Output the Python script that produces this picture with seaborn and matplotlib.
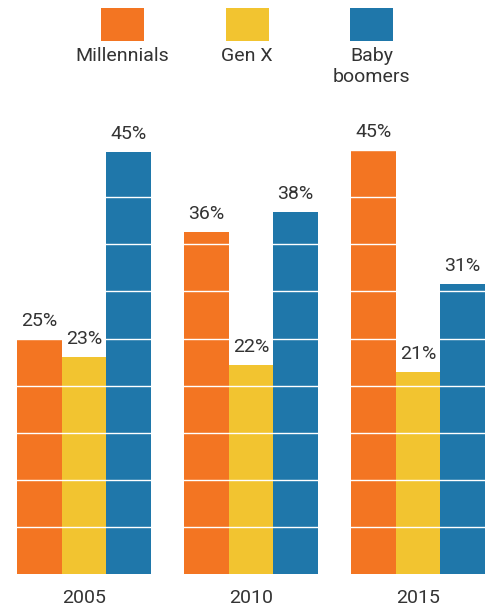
import pandas as pd
import matplotlib.pyplot as plt
import seaborn as sns
from matplotlib.patches import Rectangle

# --- dados ---
years = ["2005", "2010", "2015"]
generations = ["Millennials", "Gen X", "Baby boomers"]
millennials = [24.9, 36.3, 45.0]
gen_x = [23.0, 22.2, 21.4]
boomers = [44.8, 38.4, 30.8]
labels_millennials = ["25%", "36%", "45%"]
labels_gen_x = ["23%", "22%", "21%"]
labels_boomers = ["45%", "38%", "31%"]
legend_labels = ["Millennials", "Gen X", "Baby\nboomers"]
colors = ["#F37522", "#F2C430", "#1F77AA"]

df = pd.DataFrame({
    "year": years * 3,
    "generation": [g for g in generations for _ in years],
    "share": millennials + gen_x + boomers,
})

sns.set_style("white")
plt.rcParams["font.family"] = ["Roboto", "DejaVu Sans"]
text_color = "#333333"

fig = plt.figure(figsize=(4.9, 6.1), dpi=100)
ax = fig.add_axes([0, 36 / 610, 1, 471 / 610])

sns.barplot(data=df, x="year", y="share", hue="generation", hue_order=generations,
            palette=colors, saturation=1, width=0.8, linewidth=0, ax=ax, legend=False)

ax.set_xlim(-0.503, 2.431)
ax.set_ylim(0, 50)

# grade branca por cima das barras
ax.set_yticks(range(5, 50, 5))
ax.set_axisbelow(False)
ax.grid(axis="y", color="white", linewidth=1.0)
ax.tick_params(axis="y", left=False, labelleft=False)
ax.tick_params(axis="x", length=0, pad=11, labelsize=14, labelcolor=text_color)
ax.set_xlabel("")
ax.set_ylabel("")
sns.despine(ax=ax, left=True, bottom=True)

for cont, labs in zip(ax.containers, [labels_millennials, labels_gen_x, labels_boomers]):
    ax.bar_label(cont, labels=labs, padding=6.5, fontsize=14, color=text_color)

# legenda manual: quadrados com texto por baixo
W, H = 490, 610
for i, (lab, col) in enumerate(zip(legend_labels, colors)):
    cx = 122.5 + i * 124.5
    fig.add_artist(Rectangle(((cx - 21.5) / W, 1 - 41 / H), 43 / W, 33 / H,
                             transform=fig.transFigure, color=col, lw=0))
    fig.text(cx / W, 1 - 47 / H, lab, ha="center", va="top", fontsize=14,
             color=text_color, linespacing=1.25)

plt.savefig("out.png", dpi=100)
